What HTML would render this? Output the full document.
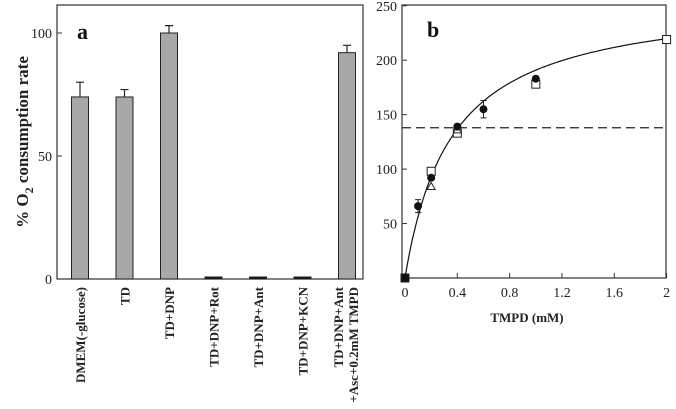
<!DOCTYPE html>
<html><head><meta charset="utf-8"><style>
body{margin:0;background:#fff}
svg{display:block;font-family:"Liberation Serif",serif}
</style></head><body>
<svg width="676" height="409" viewBox="0 0 676 409">
<g id="pa"></g>
<g id="pb"></g>
</svg>
<script>
const NS="http://www.w3.org/2000/svg";
const catsA=["DMEM(-glucose)","TD","TD+DNP","TD+DNP+Rot","TD+DNP+Ant","TD+DNP+KCN","TD+DNP+Ant|+Asc+0.2mM TMPD"];
const valsA=[74,74,100,0.8,0.8,0.8,92];
const errA=[6,3,3,0,0,0,3];
const ticksA=[0,50,100];
const circX=[0,0.1,0.2,0.4,0.6,1.0];
const circY=[0,66,92,139,155,183];
const circE=[0,6,0,0,8,0];
const sqX=[0,0.2,0.4,1.0,2.0];
const sqY=[0,98,133,178,219];
const triX=[0.2,0.4];
const triY=[84,136];
const ticksBX=[0,0.4,0.8,1.2,1.6,2];
const tickLabelsBX=["0","0.4","0.8","1.2","1.6","2"];
const ticksBY=[50,100,150,200,250];
const dashY=[138];
const fitVmax=259, fitKm=0.357;

function mk(p,t,a,txt){const e=document.createElementNS(NS,t);for(const k in a)e.setAttribute(k,a[k]);if(txt!=null)e.textContent=txt;p.appendChild(e);return e;}
// Panel A
const A=document.getElementById('pa');
const ya=v=>279-v*2.46;
const xa=i=>80+i*44.5;
let e=mk(A,'rect',{x:57,y:5,width:306,height:274,fill:'none',stroke:'#333','stroke-width':1.2});

ticksA.forEach(t=>{
 e=mk(A,'line',{x1:57,x2:62,y1:ya(t),y2:ya(t),stroke:'#333'});
 
 e=mk(A,'text',{x:52,y:ya(t)+5,'text-anchor':'end','font-size':14,fill:'#222'},t);
 
});
valsA.forEach((v,i)=>{
 const x=xa(i);
 if(errA[i]>0){
  e=mk(A,'path',{d:`M${x} ${ya(v)}V${ya(v+errA[i])}M${x-4} ${ya(v+errA[i])}H${x+4}`,stroke:'#222','stroke-width':1.2,fill:'none'});
  
 }
 const h=Math.max(279-ya(v),2);
 e=mk(A,'rect',{x:x-8.5,y:279-h,width:17,height:h,fill:v<5?'#111':'#a8a8a8',stroke:'#222','stroke-width':1});
 
 const lines=catsA[i].split('|');
 lines.forEach((s,j)=>{
  const lx=x+5+(lines.length>1?(j*15-9):0);
  e=mk(A,'text',{x:0,y:0,transform:`translate(${lx},287) rotate(-90)`,'text-anchor':'end','font-size':13,'font-weight':'bold',fill:'#222'},s);
  
 });
});
e=mk(A,'text',{x:0,y:0,transform:'translate(28,142) rotate(-90)','text-anchor':'middle','font-size':17,'font-weight':'bold',fill:'#222'});

e.innerHTML='% O<tspan dy="5" font-size="12">2</tspan><tspan dy="-5"> consumption rate</tspan>';
e=mk(A,'text',{x:77,y:39,'font-size':22,'font-weight':'bold',fill:'#111'},'a');

// Panel B
const B=document.getElementById('pb');
const xb=v=>405+v*130.8;
const yb=v=>278-v*1.089;
e=mk(B,'rect',{x:402,y:5,width:264,height:273,fill:'none',stroke:'#333','stroke-width':1.2});

ticksBY.forEach(t=>{
 e=mk(B,'line',{x1:402,x2:407,y1:yb(t),y2:yb(t),stroke:'#333'});
 
 e=mk(B,'text',{x:397,y:yb(t)+5,'text-anchor':'end','font-size':14,fill:'#222'},t);
 
});
ticksBX.forEach((t,i)=>{
 e=mk(B,'line',{x1:xb(t),x2:xb(t),y1:278,y2:273,stroke:'#333'});
 
 e=mk(B,'text',{x:xb(t),y:297,'text-anchor':'middle','font-size':14,fill:'#222'},tickLabelsBX[i]);
 
});
e=mk(B,'text',{x:527,y:322,'text-anchor':'middle','font-size':13,'font-weight':'bold',fill:'#222'},'TMPD (mM)');

e=mk(B,'text',{x:427,y:37,'font-size':22,'font-weight':'bold',fill:'#111'},'b');

dashY.forEach(d=>{
 e=mk(B,'line',{x1:402,x2:666,y1:yb(d),y2:yb(d),stroke:'#222','stroke-width':1.2,'stroke-dasharray':'9 5'});
 
});
let d='';
for(let k=0;k<=200;k++){const x=2*k/200;const y=fitVmax*x/(fitKm+x);d+=(k?'L':'M')+xb(x).toFixed(1)+' '+yb(y).toFixed(1);}
e=mk(B,'path',{d,fill:'none',stroke:'#111','stroke-width':1.2});

circX.forEach((x,i)=>{
 if(circE[i]>0){
  const y=circY[i],er=circE[i];
  e=mk(B,'path',{d:`M${xb(x)} ${yb(y-er)}V${yb(y+er)}M${xb(x)-3} ${yb(y-er)}H${xb(x)+3}M${xb(x)-3} ${yb(y+er)}H${xb(x)+3}`,stroke:'#222',fill:'none'});
  
 }
});
sqX.forEach((x,i)=>{
 e=mk(B,'rect',{x:xb(x)-4,y:yb(sqY[i])-4,width:8,height:8,fill:x===0?'#111':'#fff',stroke:'#222'});
 
});
triX.forEach((x,i)=>{
 const cx=xb(x),cy=yb(triY[i]);
 e=mk(B,'path',{d:`M${cx} ${cy-4}L${cx+4} ${cy+3}L${cx-4} ${cy+3}Z`,fill:'#fff',stroke:'#222'});
 
});
circX.forEach((x,i)=>{
 e=mk(B,'circle',{cx:xb(x),cy:yb(circY[i]),r:4,fill:'#111'});
 
});
</script>
</body></html>
